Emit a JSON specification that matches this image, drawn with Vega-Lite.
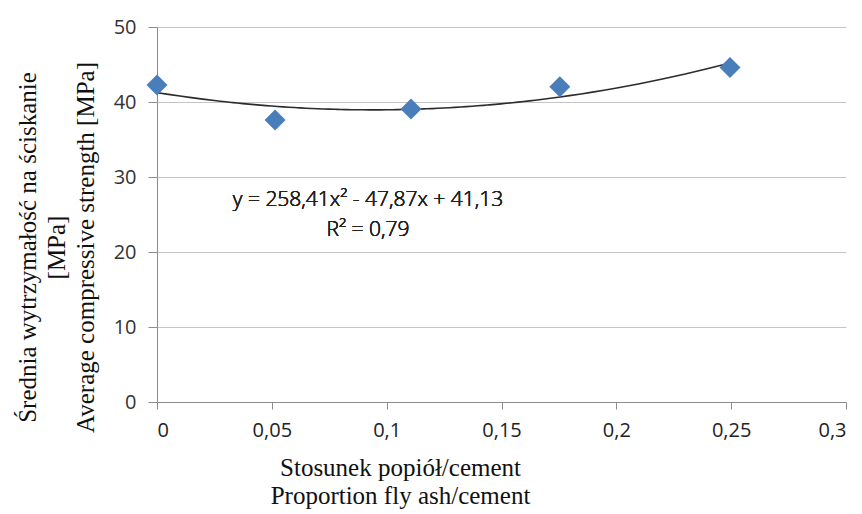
{
  "$schema": "https://vega.github.io/schema/vega-lite/v6.json",
  "width": 689,
  "height": 375,
  "autosize": "none",
  "padding": {"left": 157, "top": 27, "right": 16, "bottom": 112},
  "background": "white",
  "config": {"view": {"stroke": null}},
  "data": {
    "values": [
      {"ratio": 0.0, "strength": 42.27},
      {"ratio": 0.0514, "strength": 37.6},
      {"ratio": 0.1106, "strength": 39.07},
      {"ratio": 0.1754, "strength": 42.04},
      {"ratio": 0.2495, "strength": 44.6}
    ]
  },
  "layer": [
    {
      "transform": [
        {"regression": "strength", "on": "ratio", "method": "poly", "order": 2, "extent": [0, 0.2495]}
      ],
      "mark": {"type": "line", "color": "#2b2b2b", "strokeWidth": 1.6, "interpolate": "monotone"},
      "encoding": {
        "x": {
          "field": "ratio",
          "type": "quantitative",
          "scale": {"domain": [0, 0.3], "nice": false},
          "axis": {
            "values": [0, 0.05, 0.1, 0.15, 0.2, 0.25, 0.3],
            "labelExpr": "replace(format(datum.value, '~g'), '.', ',')",
            "grid": false,
            "domainColor": "#8c8c8c",
            "domainWidth": 1,
            "tickColor": "#8c8c8c",
            "tickSize": 7,
            "labelFont": "Open Sans",
            "labelFontSize": 20,
            "labelColor": "#222222",
            "labelPadding": 11,
            "title": ["Stosunek popiół/cement", "Proportion fly ash/cement"],
            "titleFont": "Liberation Serif",
            "titleFontSize": 25,
            "titleFontWeight": "normal",
            "titleColor": "#111111",
            "titleLineHeight": 28,
            "titleX": 243,
            "titleY": 65,
            "titleBaseline": "middle",
            "titleAlign": "center"
          }
        },
        "y": {
          "field": "strength",
          "type": "quantitative",
          "scale": {"domain": [0, 50], "nice": false},
          "axis": {
            "values": [0, 10, 20, 30, 40, 50],
            "grid": true,
            "gridColor": "#c4c4c4",
            "gridWidth": 1.2,
            "domainColor": "#8c8c8c",
            "tickColor": "#8c8c8c",
            "tickSize": 9,
            "labelFont": "Open Sans",
            "labelFontSize": 20,
            "labelColor": "#333333",
            "labelPadding": 12,
            "title": ["Średnia wytrzymałość na ściskanie", "[MPa]", "Average compressive strength [MPa]"],
            "titleFont": "Liberation Serif",
            "titleFontSize": 25,
            "titleFontWeight": "normal",
            "titleColor": "#111111",
            "titleLineHeight": 29,
            "titleAngle": -90,
            "titleX": -130,
            "titleY": 220,
            "titleBaseline": "middle",
            "titleAlign": "center"
          }
        }
      }
    },
    {
      "mark": {"type": "point", "shape": "diamond", "filled": true, "size": 440, "color": "#4a7ebb", "opacity": 1},
      "encoding": {
        "x": {"field": "ratio", "type": "quantitative"},
        "y": {"field": "strength", "type": "quantitative"}
      }
    },
    {
      "mark": {"type": "text", "font": "Open Sans", "fontSize": 21, "fontWeight": 300, "fill": "#222222", "align": "center", "baseline": "middle", "lineHeight": 30},
      "encoding": {
        "x": {"datum": 0.0919},
        "y": {"datum": 26.9},
        "text": {"value": ["y = 258,41x² - 47,87x + 41,13", "R² = 0,79"]}
      }
    }
  ]
}
